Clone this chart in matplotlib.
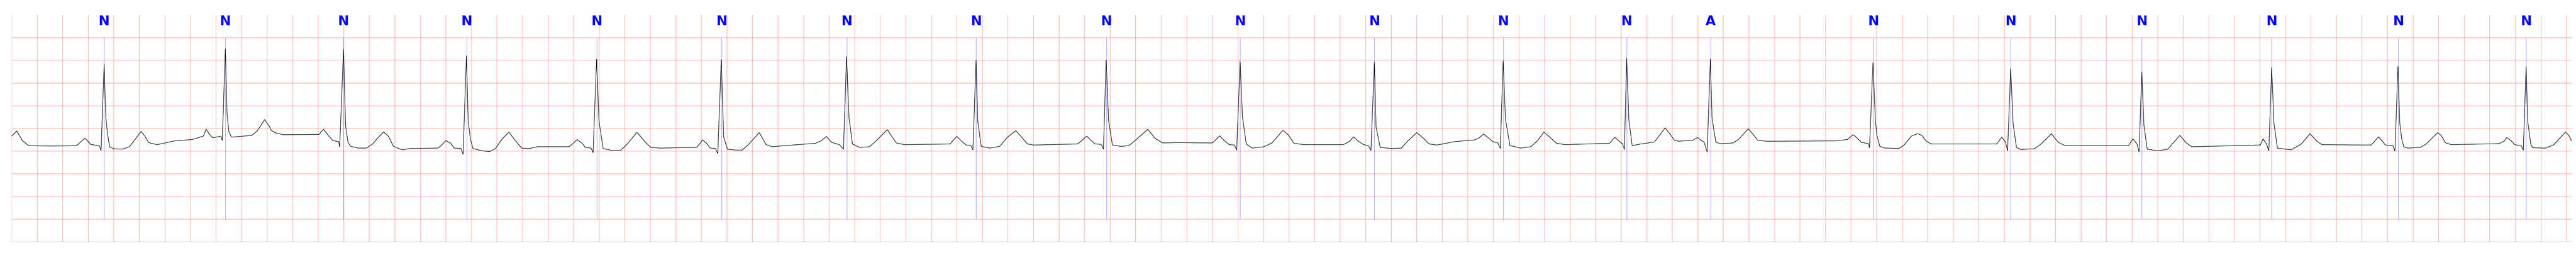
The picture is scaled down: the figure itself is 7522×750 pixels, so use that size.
import matplotlib
matplotlib.use("Agg")
import matplotlib.pyplot as plt
import numpy as np

# ECG trace (seconds, mV)
ecg_t = [0.000, 0.040, 0.086, 0.134, 0.311, 0.509, 0.552, 0.574, 0.619, 0.689, 0.700, 0.724, 0.737, 0.751, 0.767,
         0.799, 0.866, 0.922, 0.962, 1.013, 1.043, 1.072, 1.139, 1.276, 1.413, 1.501, 1.523, 1.544, 1.576, 1.638,
         1.649, 1.673, 1.686, 1.700, 1.721, 1.879, 1.920, 1.981, 2.016, 2.032, 2.062, 2.123, 2.405, 2.442, 2.483,
         2.515, 2.560, 2.568, 2.598, 2.614, 2.633, 2.654, 2.716, 2.777, 2.826, 2.871, 2.912, 2.949, 2.989, 3.059,
         3.121, 3.338, 3.370, 3.399, 3.437, 3.464, 3.517, 3.534, 3.560, 3.574, 3.592, 3.611, 3.681, 3.743, 3.788,
         3.836, 3.893, 3.936, 3.992, 4.054, 4.115, 4.365, 4.397, 4.426, 4.464, 4.491, 4.536, 4.552, 4.579, 4.598,
         4.630, 4.708, 4.769, 4.815, 4.895, 4.957, 5.003, 5.080, 5.362, 5.386, 5.408, 5.440, 5.469, 5.509, 5.528,
         5.555, 5.574, 5.603, 5.673, 5.718, 5.764, 5.853, 5.906, 5.952, 6.046, 6.295, 6.340, 6.378, 6.418, 6.480,
         6.512, 6.536, 6.555, 6.582, 6.638, 6.716, 6.761, 6.855, 6.879, 6.925, 6.989, 7.346, 7.362, 7.399, 7.440,
         7.472, 7.507, 7.525, 7.550, 7.563, 7.590, 7.657, 7.735, 7.796, 7.861, 7.906, 7.952, 8.000, 8.343, 8.378,
         8.416, 8.450, 8.483, 8.528, 8.547, 8.568, 8.587, 8.617, 8.684, 8.745, 8.794, 8.895, 8.949, 9.011, 9.121,
         9.399, 9.426, 9.456, 9.493, 9.531, 9.571, 9.590, 9.617, 9.635, 9.665, 9.710, 9.804, 9.866, 9.952, 9.992,
         10.038, 10.115, 10.426, 10.475, 10.504, 10.536, 10.582, 10.622, 10.641, 10.668, 10.681, 10.713, 10.802,
         10.879, 10.925, 11.000, 11.051, 11.097, 11.158, 11.298, 11.453, 11.485, 11.523, 11.563, 11.595, 11.635,
         11.654, 11.676, 11.694, 11.729, 11.759, 11.812, 11.893, 11.946, 11.995, 12.040, 12.094, 12.161, 12.509,
         12.550, 12.584, 12.611, 12.625, 12.643, 12.660, 12.686, 12.751, 12.777, 12.861, 12.944, 12.984, 13.016,
         13.051, 13.161, 13.198, 13.223, 13.249, 13.273, 13.298, 13.311, 13.327, 13.341, 13.378, 13.475, 13.517,
         13.595, 13.633, 13.668, 13.735, 14.282, 14.370, 14.416, 14.440, 14.480, 14.536, 14.544, 14.571, 14.590,
         14.603, 14.625, 14.665, 14.775, 14.815, 14.871, 14.922, 14.954, 14.989, 15.029, 15.539, 15.579, 15.609,
         15.625, 15.649, 15.668, 15.694, 15.727, 15.834, 15.887, 15.968, 16.021, 16.075, 16.571, 16.606, 16.638,
         16.654, 16.676, 16.692, 16.718, 16.799, 16.879, 16.973, 17.027, 17.067, 17.603, 17.625, 17.651, 17.670,
         17.692, 17.710, 17.737, 17.845, 17.925, 17.992, 18.046, 18.086, 18.408, 18.472, 18.528, 18.552, 18.582,
         18.641, 18.657, 18.681, 18.695, 18.711, 18.727, 18.759, 18.855, 18.898, 18.992, 19.019, 19.051, 19.099,
         19.365, 19.472, 19.515, 19.531, 19.568, 19.595, 19.646, 19.662, 19.684, 19.697, 19.721, 19.735, 19.834,
         19.898, 19.992, 20.019, 20.040]
ecg_mv = [0.332, 0.446, 0.227, 0.121, 0.113, 0.121, 0.234, 0.287, 0.151, 0.113, 0.008, 1.918, 0.763, 0.370, 0.098,
          0.053, 0.045, 0.098, 0.242, 0.438, 0.332, 0.189, 0.144, 0.227, 0.257, 0.332, 0.483, 0.385, 0.295, 0.332,
          0.234, 2.258, 0.838, 0.438, 0.310, 0.347, 0.438, 0.695, 0.551, 0.461, 0.408, 0.363, 0.370, 0.483, 0.332,
          0.234, 0.211, 0.098, 2.243, 0.559, 0.196, 0.106, 0.068, 0.068, 0.159, 0.310, 0.423, 0.332, 0.106, 0.030,
          0.060, 0.068, 0.144, 0.234, 0.174, 0.068, 0.060, -0.068, 2.100, 0.665, 0.257, 0.060, 0.008, -0.008, 0.060,
          0.257, 0.423, 0.257, 0.068, 0.060, 0.098, 0.098, 0.174, 0.257, 0.181, 0.083, 0.068, -0.030, 2.032, 0.665,
          0.060, 0.008, 0.023, 0.144, 0.415, 0.211, 0.083, 0.068, 0.083, 0.159, 0.249, 0.174, 0.068, 0.060, -0.053,
          2.017, 0.310, 0.045, 0.023, 0.023, 0.136, 0.408, 0.144, 0.098, 0.121, 0.174, 0.234, 0.325, 0.196, 0.144,
          0.045, 2.085, 0.740, 0.159, 0.083, 0.098, 0.211, 0.476, 0.370, 0.181, 0.144, 0.159, 0.211, 0.325, 0.211,
          0.136, 0.128, 0.030, 2.002, 0.665, 0.106, 0.068, 0.106, 0.310, 0.453, 0.310, 0.159, 0.136, 0.159, 0.234,
          0.332, 0.234, 0.159, 0.151, 0.045, 2.009, 0.687, 0.136, 0.106, 0.121, 0.234, 0.483, 0.287, 0.181, 0.189,
          0.181, 0.249, 0.340, 0.234, 0.144, 0.136, 0.023, 1.979, 0.763, 0.159, 0.068, 0.098, 0.181, 0.461, 0.363,
          0.174, 0.144, 0.144, 0.219, 0.317, 0.234, 0.144, 0.121, 0.015, 1.964, 0.536, 0.083, 0.060,
          0.068, 0.211, 0.408, 0.287, 0.159, 0.136, 0.211, 0.249, 0.287, 0.378, 0.287, 0.211, 0.181,
          0.060, 1.986, 0.710, 0.121, 0.106, 0.068, 0.098, 0.234, 0.423, 0.310, 0.174, 0.144, 0.174,
          0.310, 0.219, 0.159, 0.038, 2.047, 0.687, 0.121, 0.159, 0.166, 0.204, 0.514, 0.370, 0.242,
          0.219, 0.242, 0.302, 0.242, 0.204, -0.023, 2.032, 0.733, 0.438, 0.196, 0.166, 0.181, 0.257,
          0.491, 0.370, 0.242, 0.219, 0.227, 0.257, 0.363, 0.310, 0.196, 0.166, 0.076, 1.949, 0.657,
          0.332, 0.106, 0.068, 0.060, 0.136, 0.332, 0.385, 0.347, 0.219, 0.159, 0.159, 0.310, 0.196,
          0.008, 1.820, 0.612, 0.083, 0.038, 0.053, 0.159, 0.385, 0.196, 0.121, 0.121, 0.272, 0.159,
          -0.015, 1.745, 0.574, 0.045, 0.008, 0.045, 0.347, 0.174, 0.098, 0.136, 0.272, 0.159, 0.008,
          1.843, 0.612, 0.068, 0.030, 0.159, 0.385, 0.219, 0.144, 0.136, 0.136, 0.317, 0.242, 0.136,
          0.121, 0.000, 1.866, 0.619, 0.257, 0.098, 0.068, 0.083, 0.151, 0.408, 0.347, 0.189, 0.144,
          0.159, 0.166, 0.227, 0.302, 0.227, 0.144, 0.121, 0.023, 1.866, 0.642, 0.151, 0.076, 0.068,
          0.136, 0.423, 0.347, 0.227]

# beat annotations
beat_t = [0.724, 1.673, 2.598, 3.563, 4.582, 5.558, 6.539, 7.550, 8.571, 9.617,
          10.668, 11.678, 12.643, 13.300, 14.574, 15.649, 16.676, 17.692, 18.684, 19.684]
beat_labels = ["N", "N", "N", "N", "N", "N", "N", "N", "N", "N",
               "N", "N", "N", "A", "N", "N", "N", "N", "N", "N"]

fig = plt.figure(figsize=(75.22, 7.5), dpi=100)
ax = fig.add_axes([34 / 7522, 44 / 750, 7477 / 7522, 662 / 750])

ax.plot(ecg_t, ecg_mv, color="black", linewidth=1.1, zorder=3)
ax.vlines(beat_t, -1.5, 2.5, color="blue", alpha=0.5, linewidth=0.8, zorder=2)
for t, lab in zip(beat_t, beat_labels):
    ax.text(t, 1.0, lab, transform=ax.get_xaxis_transform(), ha="center", va="top",
            color="blue", fontsize=28, fontweight="bold",
            family=["Liberation Sans Narrow", "DejaVu Sans"])

ax.set_xlim(0, 20.045)
ax.set_ylim(-2.0, 3.0)
ax.set_xticks(np.arange(0, 20.01, 0.2))
ax.set_yticks(np.arange(-2.0, 2.51, 0.5))
ax.grid(True, color="red", alpha=0.25, linewidth=1.4)
ax.set_axisbelow(True)
ax.tick_params(length=0, labelbottom=False, labelleft=False)
for s in ax.spines.values():
    s.set_visible(False)

fig.savefig("out.png", dpi=100)
